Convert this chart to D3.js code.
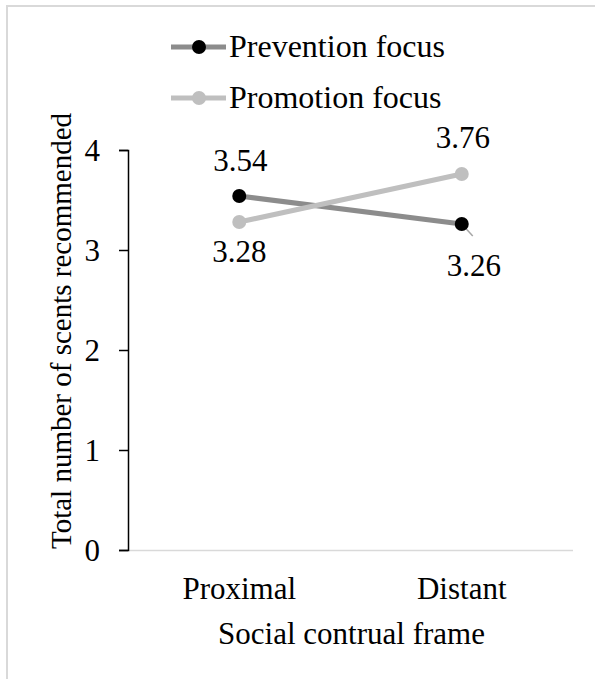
<!DOCTYPE html>
<html>
<head>
<meta charset="utf-8">
<script src="https://cdn.jsdelivr.net/npm/d3@7"></script>
<style>
  html, body { margin: 0; padding: 0; background: #fff; }
  svg { display: block; }
  text { font-family: "Liberation Serif", "Times New Roman", serif; fill: #000; }
</style>
</head>
<body>
<svg id="chart" width="595" height="679"></svg>
<script>
// Data
const categories = ["Proximal", "Distant"];
const seriesNames = ["Prevention focus", "Promotion focus"];
const prevention = [3.54, 3.26];
const promotion = [3.28, 3.76];
const yTicks = [0, 1, 2, 3, 4];

const series = [
  { name: seriesNames[0], values: prevention, line: "#8c8c8c", marker: "#000000" },
  { name: seriesNames[1], values: promotion, line: "#bfbfbf", marker: "#bfbfbf" }
];

const svg = d3.select("#chart");
const W = 595, H = 679;
const FONT = "Liberation Serif";

// Chart frame (open at right/bottom edge of the canvas)
svg.append("line").attr("x1", 6).attr("x2", W).attr("y1", 6).attr("y2", 6)
  .attr("stroke", "#d9d9d9").attr("stroke-width", 2);
svg.append("line").attr("x1", 7).attr("x2", 7).attr("y1", 6).attr("y2", H)
  .attr("stroke", "#d9d9d9").attr("stroke-width", 2);

const plot = { left: 128, right: 573, top: 150, bottom: 550 };

const x = d3.scaleBand().domain(categories).range([plot.left, plot.right]);
const y = d3.scaleLinear().domain([0, 4]).range([plot.bottom, plot.top]);
const cx = c => x(c) + x.bandwidth() / 2;

// X baseline
svg.append("line")
  .attr("x1", plot.left).attr("x2", plot.right)
  .attr("y1", y(0) + 0.5).attr("y2", y(0) + 0.5)
  .attr("stroke", "#d9d9d9").attr("stroke-width", 1.5);

// Y axis
const yAxis = svg.append("g")
  .attr("transform", `translate(${plot.left},0)`)
  .attr("font-family", FONT)
  .call(d3.axisLeft(y).tickValues(yTicks).tickFormat(d3.format("d")).tickSize(9).tickPadding(19));
yAxis.attr("font-family", FONT);
yAxis.select(".domain").attr("stroke", "#000").attr("stroke-width", 1.5);
yAxis.selectAll(".tick line").attr("stroke", "#000").attr("stroke-width", 1.5);
yAxis.selectAll(".tick text").style("font-size", "31px").attr("dy", "0.34em");

// X tick labels
const xAxis = svg.append("g")
  .attr("transform", `translate(0,${plot.bottom})`)
  .call(d3.axisBottom(x).tickSize(0).tickPadding(0));
xAxis.attr("font-family", FONT);
xAxis.select(".domain").remove();
xAxis.selectAll(".tick text").style("font-size", "31px").attr("y", 49).attr("dy", 0);

// Axis titles
svg.append("text")
  .attr("x", (plot.left + plot.right) / 2 + 1).attr("y", 644)
  .attr("text-anchor", "middle").style("font-size", "31px")
  .text("Social contrual frame");
svg.append("text")
  .attr("transform", `translate(71,${(115 + 547) / 2}) rotate(-90)`)
  .attr("text-anchor", "middle").style("font-size", "29px")
  .text("Total number of scents recommended");

// Lines and markers
const line = d3.line().x((d, i) => cx(categories[i])).y(d => y(d));

series.forEach(s => {
  svg.append("path").datum(s.values)
    .attr("d", line).attr("fill", "none")
    .attr("stroke", s.line).attr("stroke-width", 5);
});

// Leader line for the Distant prevention label
svg.append("line")
  .attr("x1", cx(categories[1])).attr("y1", y(prevention[1]))
  .attr("x2", cx(categories[1]) + 11).attr("y2", y(prevention[1]) + 12)
  .attr("stroke", "#a6a6a6").attr("stroke-width", 1.5);

series.forEach(s => {
  svg.selectAll(null).data(s.values).enter().append("circle")
    .attr("cx", (d, i) => cx(categories[i])).attr("cy", d => y(d))
    .attr("r", 7).attr("fill", s.marker);
});

// Data labels
const labelOffsets = {
  "Prevention focus": [{ dx: 1, dy: -25 }, { dx: 12, dy: 52 }],
  "Promotion focus": [{ dx: 0, dy: 40 }, { dx: 1, dy: -26 }]
};
series.forEach(s => {
  s.values.forEach((v, i) => {
    const o = labelOffsets[s.name][i];
    svg.append("text")
      .attr("x", cx(categories[i]) + o.dx).attr("y", y(v) + o.dy)
      .attr("text-anchor", "middle").style("font-size", "31px")
      .text(d3.format(".2f")(v));
  });
});

// Legend
const legend = svg.append("g");
series.forEach((s, i) => {
  const ly = 47 + i * 51;
  legend.append("line").attr("x1", 171).attr("x2", 226).attr("y1", ly).attr("y2", ly)
    .attr("stroke", s.line).attr("stroke-width", 5);
  legend.append("circle").attr("cx", 199).attr("cy", ly).attr("r", 7).attr("fill", s.marker);
  legend.append("text").attr("x", 229).attr("y", ly + 10).style("font-size", "32px").text(s.name);
});
</script>
</body>
</html>
